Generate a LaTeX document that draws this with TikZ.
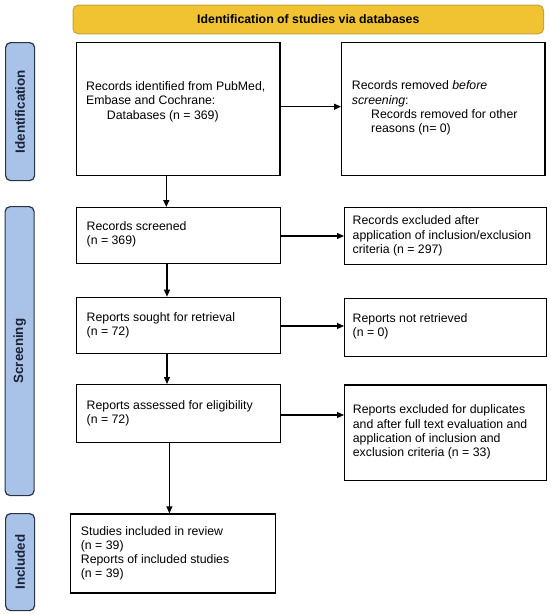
\documentclass[tikz,border=0pt]{standalone}
\usepackage{fontspec}
\setmainfont{Liberation Sans}
\usetikzlibrary{arrows.meta,calc}
\definecolor{bannerfill}{HTML}{F1C232}
\definecolor{bannerdraw}{HTML}{C9A235}
\definecolor{sidefill}{HTML}{A9C3E8}
\definecolor{sidedraw}{HTML}{2A3340}
\definecolor{sidetext}{HTML}{1A2238}
\begin{document}
\begin{tikzpicture}[x=1pt,y=-1pt,
 box/.style={draw=black, line width=1.2pt, anchor=north west, inner sep=0pt},
 txt/.style={anchor=west, align=left, inner sep=0pt, font=\fontsize{12.3}{14.3}\selectfont},
 side/.style={draw=sidedraw, fill=sidefill, line width=1.2pt, rounded corners=5pt, anchor=north west, inner sep=0pt, minimum width=29pt},
 sidetxt/.style={rotate=90, font=\fontsize{13.4}{15}\selectfont\bfseries, text=sidetext},
 arr/.style={-{Triangle[length=7pt,width=6pt]}, line width=1.2pt}]
\useasboundingbox (0,0) rectangle (550,614);
\fill[white] (0,0) rectangle (550,614);
% banner
\node[draw=bannerdraw, fill=bannerfill, line width=1pt, rounded corners=5pt, anchor=north west, inner sep=0pt, minimum width=470.4pt, minimum height=28.6pt] (ban) at (72.6,4.7) {};
\node[font=\fontsize{12.3}{14}\selectfont\bfseries] (bantxt) at (ban.center) {Identification of studies via databases};
% sidebars
\node[side, minimum height=138pt] (s1) at (5,42) {};
\node[sidetxt] (s1t) at (s1.center) {Identification};
\node[side, minimum height=289pt] (s2) at (4.5,206) {};
\node[sidetxt] (s2t) at (s2.center) {Screening};
\node[side, minimum height=97pt] (s3) at (5,513) {};
\node[sidetxt] (s3t) at (s3.center) {Included};
% boxes
\node[box, minimum width=203.6pt, minimum height=133.5pt] (b1) at (75.7,41.5) {};
\node[box, minimum width=203.4pt, minimum height=133.5pt] (b2) at (341,41.5) {};
\node[box, minimum width=203.7pt, minimum height=56pt] (b3) at (75.8,207) {};
\node[box, minimum width=202pt, minimum height=57pt] (b4) at (344,207) {};
\node[box, minimum width=203.7pt, minimum height=56.3pt] (b5) at (75.8,296.7) {};
\node[box, minimum width=202pt, minimum height=58pt] (b6) at (344,297.7) {};
\node[box, minimum width=204.2pt, minimum height=58pt] (b7) at (75.8,384) {};
\node[box, minimum width=201.7pt, minimum height=95.7pt] (b8) at (344,384.3) {};
\node[box, minimum width=205.3pt, minimum height=79pt] (b9) at (69.7,513.3) {};
% texts
\node[txt] (t1) at (86,101.8) {Records identified from PubMed,\\Embase and Cochrane:\\\hspace*{20.7pt}Databases (n = 369)};
\node[txt] (t2) at (351.7,108) {Records removed \textit{before}\\\textit{screening}:\\\hspace*{19.3pt}Records removed for other\\\hspace*{19.3pt}reasons (n= 0)};
\node[txt] (t3) at (86.5,234.5) {Records screened\\(n = 369)};
\node[txt] (t4) at (352.5,236) {Records excluded after\\application of inclusion/exclusion\\criteria (n = 297)};
\node[txt] (t5) at (86.5,325) {Reports sought for retrieval\\(n = 72)};
\node[txt] (t6) at (352.5,326.5) {Reports not retrieved\\(n = 0)};
\node[txt] (t7) at (86.5,413.5) {Reports assessed for eligibility\\(n = 72)};
\node[txt] (t8) at (352.7,432) {Reports excluded for duplicates\\and after full text evaluation and\\application of inclusion and\\exclusion criteria (n = 33)};
\node[txt] (t9) at (80.7,553.3) {Studies included in review\\(n = 39)\\Reports of included studies\\(n = 39)};
% connectors
\coordinate (v1) at (166.3,0);
\coordinate (v2) at (167,0);
\coordinate (v3) at (169.4,0);
\coordinate (h1) at (0,106.7);
\coordinate (h2) at (0,236);
\coordinate (h3) at (0,326);
\coordinate (h4) at (0,415);
\draw[arr] (b1.east |- h1) -- (b2.west |- h1);
\draw[arr] (b3.east |- h2) -- (b4.west |- h2);
\draw[arr] (b5.east |- h3) -- (b6.west |- h3);
\draw[arr] (b7.east |- h4) -- (b8.west |- h4);
\draw[arr] (b1.south -| v1) -- (b3.north -| v1);
\draw[arr] (b3.south -| v2) -- (b5.north -| v2);
\draw[arr] (b5.south -| v2) -- (b7.north -| v2);
\draw[arr] (b7.south -| v3) -- (b9.north -| v3);
\end{tikzpicture}
\end{document}
